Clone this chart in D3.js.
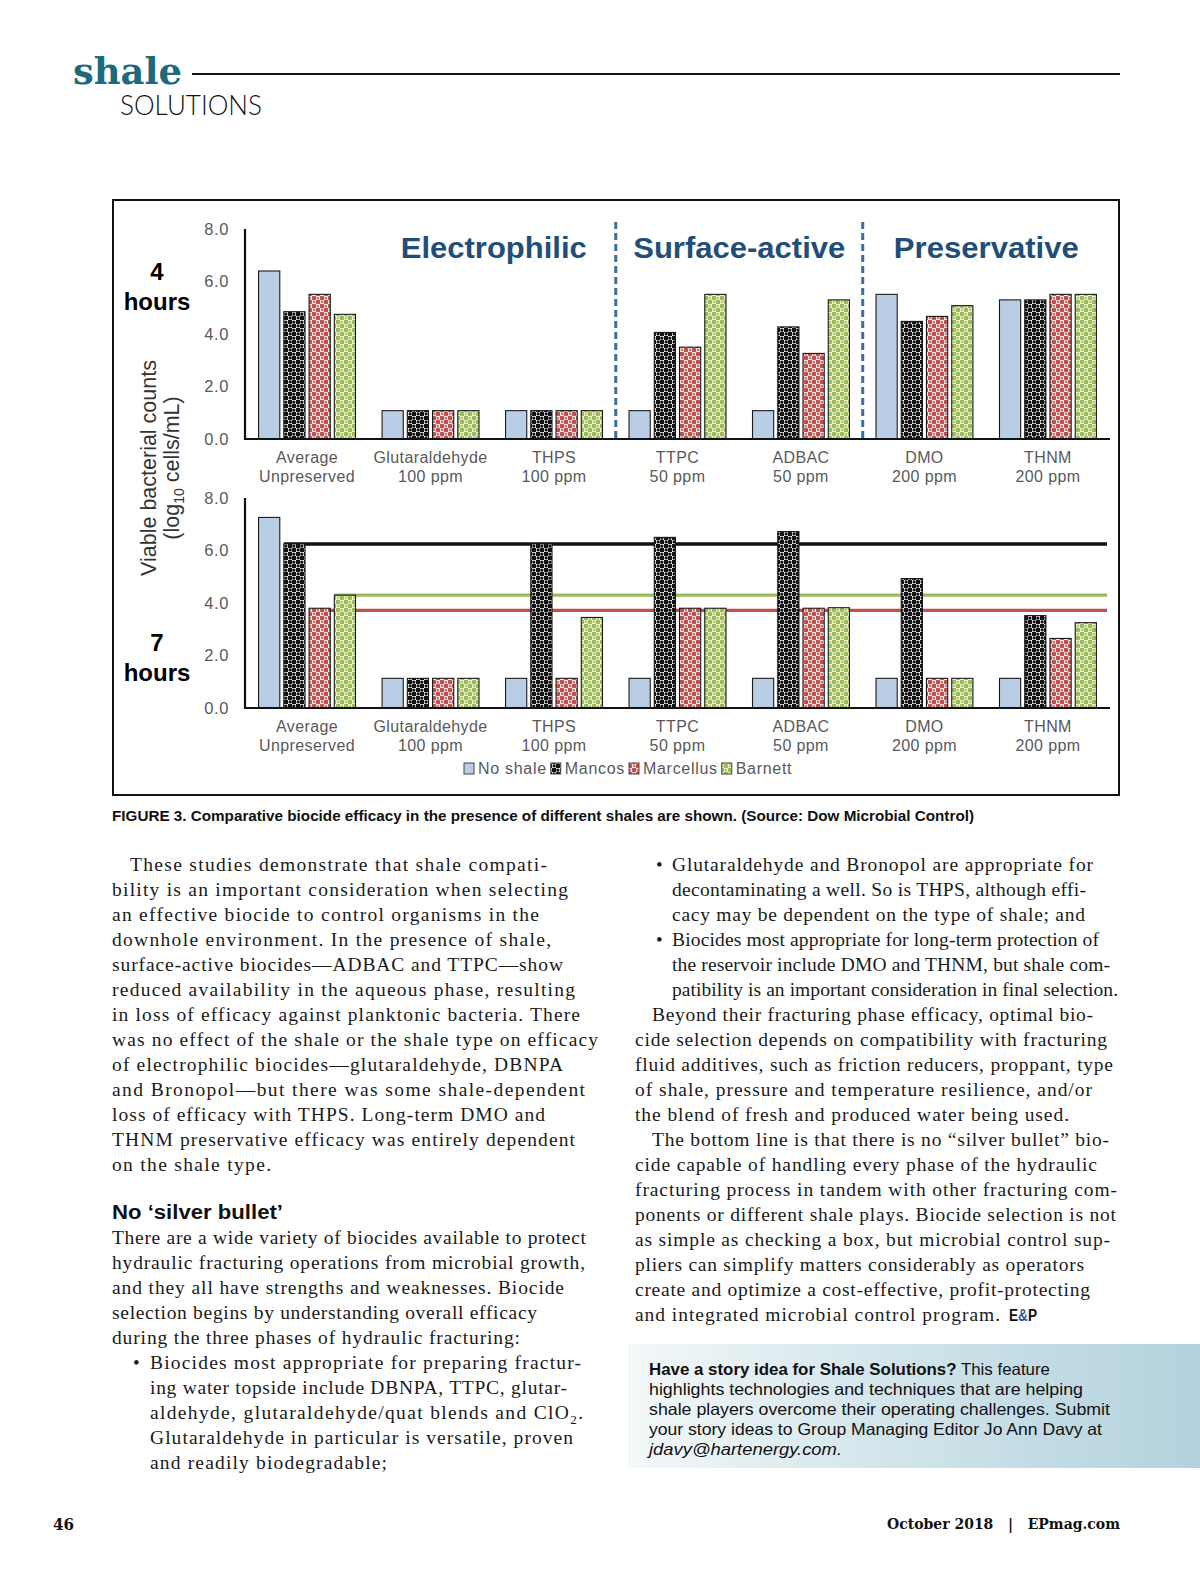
<!DOCTYPE html>
<html><head><meta charset="utf-8">
<script src="https://cdn.jsdelivr.net/npm/d3@7/dist/d3.min.js"></script>
<style>
html,body{margin:0;padding:0;background:#fff;}
svg{display:block;}
</style></head>
<body>
<svg id="page" width="1200" height="1575"></svg>
<script>
// ---------- DATA ----------
const categoryNames = ["Average","Glutaraldehyde","THPS","TTPC","ADBAC","DMO","THNM"];
const categorySub   = ["Unpreserved","100 ppm","100 ppm","50 ppm","50 ppm","200 ppm","200 ppm"];
const seriesNames   = ["No shale","Mancos","Marcellus","Barnett"];

const h4_noShale   = [6.40,1.08,1.08,1.08,1.08,5.51,5.30];
const h4_mancos    = [4.85,1.08,1.08,4.06,4.27,4.48,5.30];
const h4_marcellus = [5.51,1.08,1.08,3.50,3.26,4.67,5.51];
const h4_barnett   = [4.75,1.08,1.08,5.51,5.30,5.08,5.51];

const h7_noShale   = [7.26,1.13,1.13,1.13,1.13,1.13,1.13];
const h7_mancos    = [6.25,1.13,6.25,6.50,6.72,4.93,3.52];
const h7_marcellus = [3.80,1.13,1.13,3.80,3.80,1.13,2.65];
const h7_barnett   = [4.30,1.13,3.45,3.80,3.82,1.13,3.25];

const yTicks = [0,2,4,6,8];
const biocideClasses = ["Electrophilic","Surface-active","Preservative"];
const classLastCategory = [2,4,6];
const refLineValues = [6.25,4.30,3.72];
const refLineSeries = [1,3,2];

// ---------- SETUP ----------
const svg = d3.select("#page");
const defs = svg.append("defs");
function dotPattern(id,bg,fg,r1,r2){
  const s = 8;
  const p = defs.append("pattern").attr("id",id).attr("patternUnits","userSpaceOnUse")
    .attr("width",s).attr("height",s);
  p.append("rect").attr("width",s).attr("height",s).attr("fill",bg);
  [[2,2,r1],[6,6,r1],[6,2,r2],[2,6,r2]].forEach(c=>{
    if(c[2]>0) p.append("circle").attr("cx",c[0]).attr("cy",c[1]).attr("r",c[2]).attr("fill",fg);
  });
}
dotPattern("pMancos","#ffffff","#111111",2.5,1.5);
dotPattern("pMarcellus","#fbeaea","#c0504d",2.4,1.0);
dotPattern("pBarnett","#f1f5d2","#9bbb59",2.4,1.0);
const fills = ["#b9cde5","url(#pMancos)","url(#pMarcellus)","url(#pBarnett)"];
const refColors = ["#111111","#9bbb59","#c0504d"];

const FONT = "'Liberation Sans', Arial, sans-serif";
const SERIF = "'Liberation Serif', 'Times New Roman', serif";

// ---------- HEADER ----------
svg.append("text").attr("x",73).attr("y",84).text("shale")
  .attr("font-family","'DejaVu Serif', serif").attr("font-weight","bold").attr("font-size",37)
  .attr("fill","#1d6a7c").attr("textLength",109).attr("lengthAdjust","spacingAndGlyphs");
svg.append("line").attr("x1",192).attr("x2",1120).attr("y1",74).attr("y2",74)
  .attr("stroke","#111").attr("stroke-width",2);
svg.append("text").attr("x",120).attr("y",115).text("SOLUTIONS")
  .attr("font-family","Lato, 'Liberation Sans', sans-serif").attr("font-size",27).attr("fill","#111")
  .attr("textLength",142).attr("lengthAdjust","spacingAndGlyphs").style("font-weight",300);

// ---------- CHART FRAME ----------
svg.append("rect").attr("x",113).attr("y",200).attr("width",1006).attr("height",595)
  .attr("fill","#fff").attr("stroke","#111").attr("stroke-width",2);

const x = d3.scaleBand().domain(d3.range(categoryNames.length)).range([245,1110])
  .paddingInner(0.215).paddingOuter(0.11);
const xs = d3.scaleBand().domain(d3.range(4)).range([0,x.bandwidth()]).paddingInner(0.16);

function panel(series, base, top, labelNum, showLines){
  const y = d3.scaleLinear().domain([0,8]).range([base,top]);
  const g = svg.append("g");
  // ticks
  g.selectAll(".tk").data(yTicks).join("text")
    .attr("x",229).attr("y",d=>y(d)+5.5).attr("text-anchor","end")
    .attr("font-family",FONT).attr("font-size",16.5).attr("letter-spacing",0.6).attr("fill","#595959")
    .text(d=>d.toFixed(1));
  // reference lines
  if(showLines){
    refLineValues.forEach((v,i)=>{
      g.append("line").attr("x1",x(0)+xs(refLineSeries[i])).attr("x2",1107)
        .attr("y1",y(v)).attr("y2",y(v)).attr("stroke",refColors[i])
        .attr("stroke-width",i===0?3.5:3.2);
    });
  }
  // bars
  series.forEach((vals,si)=>{
    g.selectAll(".b"+si).data(vals).join("rect")
      .attr("x",(d,i)=>x(i)+xs(si)).attr("width",xs.bandwidth())
      .attr("y",d=>y(d)).attr("height",d=>y(0)-y(d))
      .attr("fill",fills[si]).attr("stroke","#1a1a1a").attr("stroke-width",1.1);
  });
  // axes lines
  g.append("line").attr("x1",245).attr("x2",245).attr("y1",y(8)).attr("y2",y(0)+1)
    .attr("stroke","#111").attr("stroke-width",2.2);
  g.append("line").attr("x1",244).attr("x2",1110).attr("y1",y(0)).attr("y2",y(0))
    .attr("stroke","#111").attr("stroke-width",2.2);
  // category labels
  categoryNames.forEach((c,i)=>{
    const cx = x(i)+x.bandwidth()/2;
    g.append("text").attr("x",cx).attr("y",base+24).attr("text-anchor","middle")
      .attr("font-family",FONT).attr("font-size",16).attr("fill","#595959")
      .attr("letter-spacing",0.4).text(c);
    g.append("text").attr("x",cx).attr("y",base+43).attr("text-anchor","middle")
      .attr("font-family",FONT).attr("font-size",16).attr("fill","#595959")
      .attr("letter-spacing",0.4).text(categorySub[i]);
  });
  // hours label
  g.append("text").attr("x",157).attr("y",labelNum[0]).attr("text-anchor","middle")
    .attr("font-family",FONT).attr("font-weight","bold").attr("font-size",24).text(labelNum[2]);
  g.append("text").attr("x",157).attr("y",labelNum[1]).attr("text-anchor","middle")
    .attr("font-family",FONT).attr("font-weight","bold").attr("font-size",24).text("hours");
  return y;
}
const yTop = panel([h4_noShale,h4_mancos,h4_marcellus,h4_barnett],439,229,[280,310,"4"],false);
const yBot = panel([h7_noShale,h7_mancos,h7_marcellus,h7_barnett],708,498,[651,681,"7"],true);

// class separators & titles
const bounds = classLastCategory.slice(0,2).map(i=>x(i)+x.bandwidth()+(x.step()-x.bandwidth())/2);
bounds.forEach(bx=>{
  svg.append("line").attr("x1",bx).attr("x2",bx).attr("y1",222).attr("y2",439)
    .attr("stroke","#3c6f9b").attr("stroke-width",3).attr("stroke-dasharray","7,4");
});
const titleLens = [186,212,185];
const titleX = [bounds[0]-29, (bounds[0]+bounds[1])/2, (bounds[1]+1110)/2];
biocideClasses.forEach((t,i)=>{
  svg.append("text").attr("x",titleX[i]).attr("y",258)
    .attr("text-anchor",i===0?"end":"middle")
    .attr("font-family",FONT).attr("font-weight","bold").attr("font-size",30)
    .attr("fill","#1f4e79").attr("textLength",titleLens[i]).attr("lengthAdjust","spacingAndGlyphs")
    .text(t);
});

// y-axis title
const yt = svg.append("g").attr("transform","translate(156,468) rotate(-90)");
yt.append("text").attr("text-anchor","middle").attr("font-family",FONT).attr("font-size",21.5)
  .attr("fill","#333").text("Viable bacterial counts");
const yt2 = yt.append("text").attr("y",23).attr("text-anchor","middle").attr("font-family",FONT)
  .attr("font-size",21.5).attr("fill","#333");
yt2.append("tspan").text("(log");
yt2.append("tspan").attr("font-size",14).attr("dy",5).text("10");
yt2.append("tspan").attr("dy",-5).text(" cells/mL)");

// legend
let lx = 464;
seriesNames.forEach((s,i)=>{
  svg.append("rect").attr("x",lx).attr("y",763).attr("width",10).attr("height",11)
    .attr("fill",fills[i]).attr("stroke","#444").attr("stroke-width",1);
  const t = svg.append("text").attr("x",lx+14).attr("y",774).attr("font-family",FONT)
    .attr("font-size",16).attr("letter-spacing",0.7).attr("fill","#595959").text(s);
  lx += 14 + t.node().getComputedTextLength() + 4;
});

// caption
svg.append("text").attr("x",112).attr("y",821)
  .attr("font-family",FONT).attr("font-weight","bold").attr("font-size",14.5).attr("fill","#111")
  .attr("textLength",862).attr("lengthAdjust","spacingAndGlyphs")
  .text("FIGURE 3. Comparative biocide efficacy in the presence of different shales are shown. (Source: Dow Microbial Control)");

// ---------- BODY TEXT ----------
function bodyLine(x0,x1,yy,txt,bullet,bx){
  const t = svg.append("text").attr("x",x0).attr("y",yy).attr("font-family",SERIF)
    .attr("font-size",19.5).attr("fill","#1a1a1a")
    .attr("textLength",x1-x0).attr("lengthAdjust","spacing");
  if(Array.isArray(txt)){
    txt.forEach(p=>{ const ts=t.append("tspan").text(p.t); if(p.sub){ts.attr("font-size",13).attr("dy",5);} if(p.up){ts.attr("dy",-5);} });
  } else t.text(txt);
  if(bullet) svg.append("text").attr("x",bx).attr("y",yy).attr("font-family",SERIF)
    .attr("font-size",19).attr("fill","#1a1a1a").text("•");
}
const L = [
 [130,547,"These studies demonstrate that shale compati-"],
 [112,568,"bility is an important consideration when selecting"],
 [112,539,"an effective biocide to control organisms in the"],
 [112,551,"downhole environment. In the presence of shale,"],
 [112,563,"surface-active biocides—ADBAC and TTPC—show"],
 [112,575,"reduced availability in the aqueous phase, resulting"],
 [112,580,"in loss of efficacy against planktonic bacteria. There"],
 [112,598,"was no effect of the shale or the shale type on efficacy"],
 [112,563,"of electrophilic biocides—glutaraldehyde, DBNPA"],
 [112,585,"and Bronopol—but there was some shale-dependent"],
 [112,545,"loss of efficacy with THPS. Long-term DMO and"],
 [112,575,"THNM preservative efficacy was entirely dependent"],
 [112,271,"on the shale type."]
];
L.forEach((l,i)=>bodyLine(l[0],l[1],871+i*25,l[2]));
svg.append("text").attr("x",112).attr("y",1219).attr("font-family",FONT).attr("font-weight","bold")
  .attr("font-size",20).attr("fill","#111").attr("textLength",171).attr("lengthAdjust","spacingAndGlyphs")
  .text("No ‘silver bullet’");
const L2 = [
 [112,586,"There are a wide variety of biocides available to protect",false],
 [112,585,"hydraulic fracturing operations from microbial growth,",false],
 [112,564,"and they all have strengths and weaknesses. Biocide",false],
 [112,537,"selection begins by understanding overall efficacy",false],
 [112,520,"during the three phases of hydraulic fracturing:",false],
 [150,581,"Biocides most appropriate for preparing fractur-",true],
 [150,567,"ing water topside include DBNPA, TTPC, glutar-",false],
 [150,583,[{t:"aldehyde, glutaraldehyde/quat blends and ClO"},{t:"2",sub:true},{t:".",up:true}],false],
 [150,573,"Glutaraldehyde in particular is versatile, proven",false],
 [150,387,"and readily biodegradable;",false]
];
L2.forEach((l,i)=>bodyLine(l[0],l[1],1244+i*25,l[2],l[3],133));
const R = [
 [672,1093,"Glutaraldehyde and Bronopol are appropriate for",true],
 [672,1086,"decontaminating a well. So is THPS, although effi-",false],
 [672,1085,"cacy may be dependent on the type of shale; and",false],
 [672,1099,"Biocides most appropriate for long-term protection of",true],
 [672,1110,"the reservoir include DMO and THNM, but shale com-",false],
 [672,1118,"patibility is an important consideration in final selection.",false],
 [652,1093,"Beyond their fracturing phase efficacy, optimal bio-",false],
 [635,1107,"cide selection depends on compatibility with fracturing",false],
 [635,1113,"fluid additives, such as friction reducers, proppant, type",false],
 [635,1092,"of shale, pressure and temperature resilience, and/or",false],
 [635,1069,"the blend of fresh and produced water being used.",false],
 [652,1109,"The bottom line is that there is no “silver bullet” bio-",false],
 [635,1097,"cide capable of handling every phase of the hydraulic",false],
 [635,1117,"fracturing process in tandem with other fracturing com-",false],
 [635,1116,"ponents or different shale plays. Biocide selection is not",false],
 [635,1110,"as simple as checking a box, but microbial control sup-",false],
 [635,1084,"pliers can simplify matters considerably as operators",false],
 [635,1090,"create and optimize a cost-effective, profit-protecting",false],
 [635,1000,"and integrated microbial control program.",false]
];
R.forEach((l,i)=>bodyLine(l[0],l[1],871+i*25,l[2],l[3],656));
const ep = svg.append("text").attr("x",1009).attr("y",1321).attr("font-family",FONT)
  .attr("font-weight","bold").attr("font-size",16).attr("textLength",28).attr("lengthAdjust","spacingAndGlyphs");
ep.append("tspan").attr("fill","#111").text("E");
ep.append("tspan").attr("fill","#2a5fa8").text("&");
ep.append("tspan").attr("fill","#111").text("P");

// ---------- CALLOUT ----------
const grad = defs.append("linearGradient").attr("id","callG").attr("x1","0").attr("x2","1").attr("y1","0").attr("y2","0");
grad.append("stop").attr("offset","0").attr("stop-color","#f4f8f9");
grad.append("stop").attr("offset","0.45").attr("stop-color","#d2e5eb");
grad.append("stop").attr("offset","1").attr("stop-color","#b3d2dd");
svg.append("rect").attr("x",628).attr("y",1344).attr("width",572).attr("height",124).attr("fill","url(#callG)");
const C = [
 [649,1050,[{t:"Have a story idea for Shale Solutions?",b:true},{t:" This feature"}]],
 [649,1083,[{t:"highlights technologies and techniques that are helping"}]],
 [649,1110,[{t:"shale players overcome their operating challenges. Submit"}]],
 [649,1102,[{t:"your story ideas to Group Managing Editor Jo Ann Davy at"}]],
 [649,842,[{t:"jdavy@hartenergy.com.",i:true}]]
];
C.forEach((l,i)=>{
  const t = svg.append("text").attr("x",l[0]).attr("y",1375+i*20).attr("font-family",FONT)
    .attr("font-size",16.5).attr("fill","#111").attr("textLength",l[1]-l[0]).attr("lengthAdjust","spacingAndGlyphs");
  l[2].forEach(p=>{const ts=t.append("tspan").text(p.t); if(p.b) ts.attr("font-weight","bold"); if(p.i) ts.attr("font-style","italic");});
});

// ---------- FOOTER ----------
svg.append("text").attr("x",53).attr("y",1530).attr("font-family","'DejaVu Serif', serif")
  .attr("font-weight","bold").attr("font-size",16).attr("fill","#111")
  .attr("textLength",21).attr("lengthAdjust","spacingAndGlyphs").text("46");
svg.append("text").attr("x",887).attr("y",1529).attr("font-family","'DejaVu Serif', serif")
  .attr("font-weight","bold").attr("font-size",14).attr("fill","#111")
  .attr("textLength",233).attr("lengthAdjust","spacingAndGlyphs").attr("xml:space","preserve")
  .text("October 2018   |   EPmag.com");
</script>
</body></html>
